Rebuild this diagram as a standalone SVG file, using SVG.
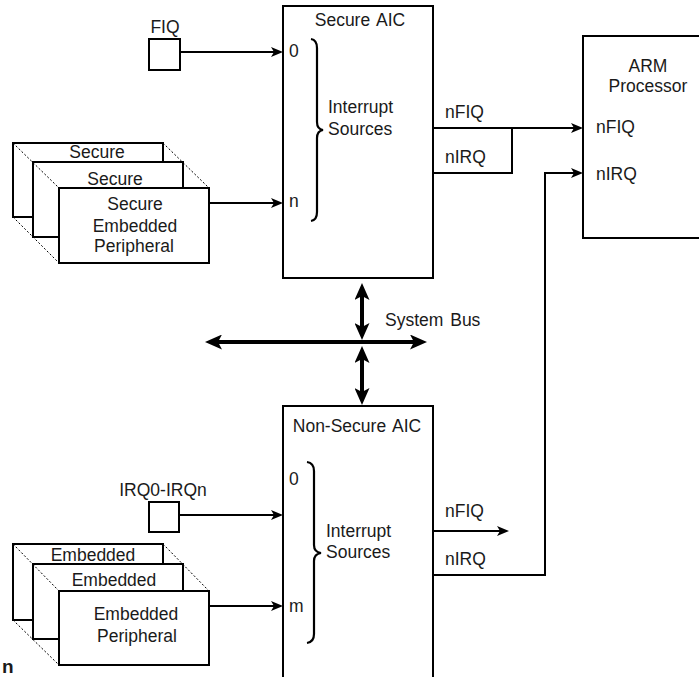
<svg xmlns="http://www.w3.org/2000/svg" width="699" height="677" viewBox="0 0 699 677">
<style>
text{font-family:"Liberation Sans",Arial,sans-serif;font-size:17.5px;fill:#1a1a1a;word-spacing:2px}
.c{text-anchor:middle}
.box{fill:#fff;stroke:#000;stroke-width:2}
.dot{fill:none;stroke:#000;stroke-width:1;stroke-dasharray:2 2}
.ln{fill:none;stroke:#000;stroke-width:2}
.bus{fill:none;stroke:#000;stroke-width:4}
.br{fill:none;stroke:#000;stroke-width:2.2}
</style>
<defs>
<marker id="a" markerUnits="userSpaceOnUse" markerWidth="12" markerHeight="10" refX="6" refY="5" orient="auto"><path d="M0,0 L12,5 L0,10 L3,5 z" fill="#000"/></marker>
<marker id="b" markerUnits="userSpaceOnUse" markerWidth="17" markerHeight="15" refX="6" refY="7.5" orient="auto-start-reverse"><path d="M0,0 L17,7.5 L0,15 L4,7.5 z" fill="#000"/></marker>
</defs>
<rect width="699" height="677" fill="#fff"/>

<g id="secure-aic">
<rect class="box" x="283" y="6" width="150" height="272"/>
<text class="c" x="360" y="26">Secure AIC</text>
<text x="289" y="57">0</text>
<text x="289" y="207">n</text>
<path class="br" d="M311,39 Q317,40 317,48 V122 Q317,129 323,130 Q317,131 317,138 V212 Q317,220 311,221"/>
<text x="328" y="113">Interrupt</text>
<text x="328" y="135">Sources</text>
</g>

<g id="non-secure-aic">
<rect class="box" x="283" y="406" width="150" height="290"/>
<text class="c" x="357" y="432">Non-Secure AIC</text>
<text x="289" y="485">0</text>
<text x="289" y="612">m</text>
<path class="br" d="M307,462 Q314,463 314,471 V545 Q314,552 321,553 Q314,554 314,561 V634 Q314,642 307,643"/>
<text x="326" y="537">Interrupt</text>
<text x="326" y="558">Sources</text>
</g>

<g id="arm">
<rect class="box" x="583" y="36" width="130" height="202"/>
<text class="c" x="648" y="72">ARM</text>
<text class="c" x="648" y="92">Processor</text>
<text x="596" y="133">nFIQ</text>
<text x="596" y="180">nIRQ</text>
</g>

<g id="fiq">
<rect class="box" x="149" y="39" width="31" height="31"/>
<text class="c" x="165" y="33">FIQ</text>
</g>

<g id="irq">
<rect class="box" x="149" y="502" width="30" height="30"/>
<text class="c" x="163" y="496">IRQ0-IRQn</text>
</g>

<g id="secure-peripherals">
<rect class="box" x="13" y="143" width="150" height="74"/>
<text class="c" x="97" y="158">Secure</text>
<rect class="box" x="33" y="162" width="150" height="75"/>
<text class="c" x="115" y="185">Secure</text>
<rect class="box" x="59" y="188" width="150" height="75"/>
<text class="c" x="135" y="210">Secure</text>
<text class="c" x="135" y="232">Embedded</text>
<text class="c" x="134" y="252">Peripheral</text>
<path class="dot" d="M13,143 L59,188 M163,143 L209,188 M13,217 L59,263"/>
</g>

<g id="non-secure-peripherals">
<rect class="box" x="13" y="544" width="150" height="76"/>
<text class="c" x="93" y="561">Embedded</text>
<rect class="box" x="33" y="564" width="150" height="75"/>
<text class="c" x="114" y="586">Embedded</text>
<rect class="box" x="59" y="591" width="150" height="74"/>
<text class="c" x="136" y="620">Embedded</text>
<text class="c" x="137" y="642">Peripheral</text>
<path class="dot" d="M13,544 L59,591 M163,544 L209,591 M13,620 L59,665"/>
</g>

<g id="connectors">
<path class="ln" d="M180,52 H277" marker-end="url(#a)"/>
<path class="ln" d="M209,203 H277" marker-end="url(#a)"/>
<path class="ln" d="M179,515 H277" marker-end="url(#a)"/>
<path class="ln" d="M209,606 H277" marker-end="url(#a)"/>
<path class="ln" d="M433,128 H577" marker-end="url(#a)"/>
<path class="ln" d="M433,173 H512 V128"/>
<path class="ln" d="M433,531 H503" marker-end="url(#a)"/>
<path class="ln" d="M433,575 H545 V173 H577" marker-end="url(#a)"/>
<path class="bus" d="M362,294 V329" marker-start="url(#b)" marker-end="url(#b)"/>
<path class="bus" d="M216,342 H416" marker-start="url(#b)" marker-end="url(#b)"/>
<path class="bus" d="M362,357 V394" marker-start="url(#b)" marker-end="url(#b)"/>
</g>

<g id="labels">
<text x="385" y="326">System Bus</text>
<text x="445" y="118">nFIQ</text>
<text x="445" y="163">nIRQ</text>
<text x="445" y="517">nFIQ</text>
<text x="445" y="565">nIRQ</text>
<text x="2" y="673" style="font-weight:bold;font-size:19px">n</text>
</g>
</svg>
